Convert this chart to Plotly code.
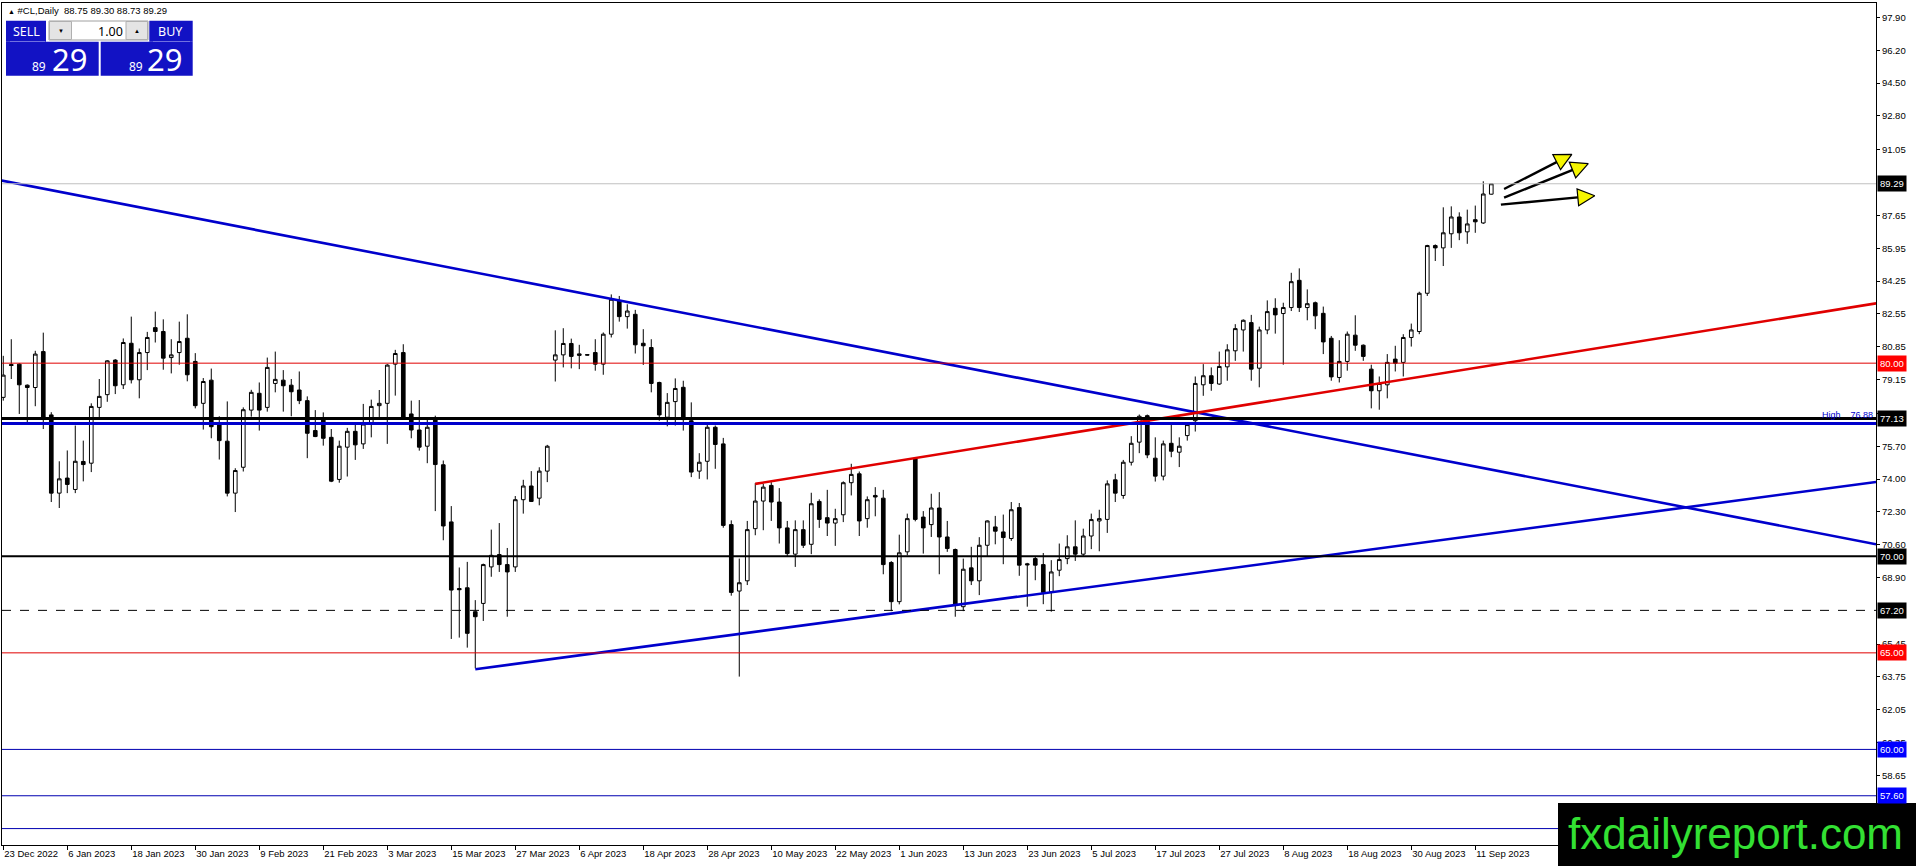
import math
import plotly.graph_objects as go

# ---------------- data ----------------
opens = [78.23, 79.93, 79.95, 78.86, 78.74, 80.60, 77.32, 73.27, 74.05, 73.46,
         74.91, 74.82, 77.71, 78.37, 80.16, 78.88, 81.03, 79.14, 80.55, 81.84,
         81.64, 80.29, 80.55, 81.29, 80.09, 77.92, 79.12, 76.85, 75.96, 73.27,
         74.61, 77.57, 78.44, 77.71, 78.95, 79.12, 78.86, 78.61, 78.06, 76.51,
         77.11, 76.16, 73.98, 75.65, 76.47, 75.82, 76.90, 77.80, 77.92, 79.95,
         80.55, 77.37, 76.54, 75.70, 77.14, 74.74, 71.78, 68.33, 68.37, 67.13,
         67.56, 69.45, 70.09, 69.57, 69.45, 72.93, 73.64, 73.01, 74.41, 80.16,
         80.43, 81.02, 80.40, 80.44, 80.55, 79.95, 81.50, 83.22, 82.41, 82.53,
         81.03, 80.81, 79.00, 77.20, 78.01, 78.75, 77.02, 74.41, 74.92, 76.68,
         75.82, 71.64, 68.20, 68.73, 71.43, 72.86, 73.67, 72.81, 71.47, 70.11,
         71.38, 70.62, 72.84, 72.00, 71.72, 72.15, 73.81, 74.27, 71.95, 73.15,
         73.01, 69.68, 67.65, 70.23, 75.05, 72.03, 71.64, 72.50, 71.00, 70.35,
         67.39, 69.40, 68.73, 70.57, 71.52, 71.26, 70.92, 72.52, 69.61, 69.88,
         69.57, 68.16, 69.28, 69.88, 70.49, 70.11, 71.05, 71.83, 71.91, 73.96,
         73.15, 74.87, 75.91, 77.28, 75.08, 74.15, 75.85, 75.39, 76.25, 77.02,
         78.88, 79.35, 78.92, 79.81, 80.64, 81.72, 82.10, 79.74, 81.72, 82.84,
         82.57, 82.88, 84.29, 82.88, 83.13, 82.58, 81.29, 79.26, 80.09, 81.45,
         80.93, 79.69, 78.57, 78.88, 80.21, 80.04, 81.33, 81.64, 83.62, 86.09,
         85.97, 86.70, 87.57, 86.80, 87.43, 87.26, 88.75]
highs = [80.38, 81.24, 80.00, 78.90, 80.64, 81.58, 77.46, 74.92, 75.48, 76.77,
         75.99, 77.92, 79.18, 80.16, 80.21, 81.28, 82.41, 80.76, 81.62, 82.67,
         82.27, 81.24, 82.15, 82.53, 80.52, 79.23, 79.72, 77.25, 78.02, 74.56,
         77.71, 78.62, 79.00, 80.29, 80.60, 79.64, 79.18, 79.57, 78.28, 77.57,
         77.45, 76.59, 75.99, 76.65, 76.82, 77.89, 78.11, 78.61, 79.95, 80.69,
         80.98, 78.06, 78.09, 77.11, 77.28, 74.96, 72.60, 69.42, 69.71, 67.73,
         69.62, 71.38, 71.72, 70.43, 73.12, 73.96, 74.41, 74.61, 75.77, 81.70,
         81.81, 81.27, 80.95, 80.46, 81.24, 81.59, 83.56, 83.48, 83.05, 82.76,
         81.76, 81.24, 79.04, 78.45, 79.21, 79.09, 77.97, 75.34, 76.90, 76.77,
         76.13, 71.86, 69.88, 71.83, 73.79, 73.76, 73.84, 73.53, 71.83, 71.86,
         71.86, 73.29, 72.95, 73.44, 72.46, 73.88, 74.79, 74.39, 73.10, 73.58,
         73.44, 69.75, 71.12, 72.21, 75.08, 72.34, 73.24, 73.32, 71.83, 70.40,
         69.88, 70.49, 70.99, 71.86, 72.09, 72.16, 72.81, 72.76, 69.66, 70.00,
         70.17, 69.80, 70.66, 71.09, 71.86, 71.43, 72.21, 72.41, 73.93, 74.27,
         74.99, 76.22, 77.34, 77.34, 76.16, 75.99, 76.94, 76.16, 76.94, 79.31,
         79.95, 79.78, 80.60, 80.98, 82.02, 82.27, 82.50, 81.89, 83.25, 83.36,
         83.13, 84.68, 84.91, 83.82, 83.19, 82.93, 81.41, 81.19, 81.64, 82.48,
         80.97, 79.92, 79.31, 80.47, 80.90, 81.50, 82.05, 83.70, 86.13, 86.15,
         88.07, 88.12, 87.81, 87.95, 88.16, 89.42, 89.30]
lows = [78.06, 79.18, 77.37, 76.85, 77.77, 76.59, 72.81, 72.50, 73.27, 73.27,
        73.88, 74.36, 77.20, 78.00, 78.40, 78.66, 78.95, 78.18, 79.64, 81.07,
        79.66, 79.47, 79.92, 79.06, 77.66, 76.56, 76.11, 75.01, 73.10, 72.29,
        74.39, 77.23, 76.51, 77.49, 78.49, 77.49, 77.25, 77.88, 75.08, 76.17,
        75.73, 73.84, 73.81, 74.13, 74.99, 75.56, 76.16, 77.20, 75.82, 78.32,
        77.08, 76.11, 75.47, 74.82, 72.34, 70.83, 65.72, 65.79, 65.27, 64.20,
        66.65, 68.94, 69.19, 66.87, 69.19, 72.21, 72.81, 72.64, 73.84, 79.05,
        79.78, 79.73, 79.69, 80.40, 79.61, 79.40, 81.33, 82.15, 81.79, 80.50,
        79.91, 78.49, 77.02, 76.73, 76.77, 76.51, 74.10, 74.01, 73.98, 74.53,
        71.48, 67.96, 63.77, 68.51, 71.09, 71.35, 71.83, 70.66, 69.97, 69.45,
        70.43, 70.11, 71.47, 71.05, 70.54, 71.77, 73.15, 71.05, 71.48, 72.07,
        69.07, 67.16, 67.51, 70.05, 71.81, 70.14, 71.00, 69.07, 70.23, 66.87,
        67.16, 68.51, 67.99, 70.02, 70.62, 69.59, 70.80, 68.99, 67.39, 68.76,
        67.52, 67.13, 68.97, 69.59, 69.76, 70.02, 70.37, 70.26, 71.21, 72.81,
        72.98, 74.70, 75.34, 75.08, 73.87, 73.93, 75.13, 74.62, 75.99, 76.46,
        78.31, 78.57, 78.88, 79.09, 80.12, 80.60, 79.09, 78.75, 81.50, 81.53,
        79.92, 82.70, 82.65, 82.22, 81.76, 80.47, 79.09, 79.00, 79.61, 80.64,
        80.12, 77.66, 77.59, 78.18, 79.57, 79.31, 80.86, 81.50, 83.48, 85.29,
        85.03, 85.97, 86.37, 86.18, 86.75, 87.21, 88.73]
closes = [79.38, 79.88, 78.88, 78.74, 80.47, 77.20, 73.27, 74.01, 73.72, 74.92,
          74.75, 77.76, 78.28, 80.12, 78.83, 81.07, 79.14, 80.55, 81.33, 81.64,
          80.26, 80.43, 81.12, 79.40, 77.80, 79.05, 76.71, 75.99, 73.27, 74.44,
          77.59, 78.49, 77.57, 79.78, 79.16, 78.83, 78.52, 78.06, 76.37, 76.20,
          76.11, 73.89, 75.70, 76.47, 75.77, 76.85, 77.76, 77.92, 79.90, 80.50,
          77.20, 76.54, 75.65, 76.68, 74.75, 71.57, 68.25, 68.27, 66.01, 66.87,
          69.57, 70.05, 69.57, 69.19, 72.93, 73.64, 72.84, 74.41, 75.70, 80.43,
          81.02, 80.35, 80.48, 80.42, 79.95, 81.50, 83.31, 82.41, 82.70, 80.95,
          80.90, 78.95, 77.32, 77.97, 78.69, 77.08, 74.36, 74.87, 76.68, 75.79,
          71.60, 68.13, 68.63, 71.38, 72.86, 73.58, 72.81, 71.47, 70.14, 71.38,
          70.57, 72.72, 71.91, 71.72, 71.95, 73.81, 74.24, 71.83, 72.93, 73.07,
          69.57, 67.65, 70.18, 71.95, 71.91, 71.47, 72.50, 71.00, 70.40, 67.51,
          69.33, 68.73, 70.57, 71.83, 71.30, 70.97, 72.41, 69.54, 69.56, 69.54,
          68.13, 69.19, 69.83, 70.49, 70.11, 71.05, 71.90, 71.95, 73.75, 73.27,
          74.87, 75.85, 77.25, 75.25, 74.15, 75.82, 75.44, 75.70, 76.82, 78.95,
          79.35, 78.95, 79.83, 80.69, 81.79, 82.22, 79.69, 81.72, 82.67, 82.50,
          82.88, 84.22, 82.88, 83.08, 82.45, 81.10, 79.29, 80.09, 81.50, 80.93,
          80.35, 78.57, 78.95, 80.04, 80.00, 81.33, 81.72, 83.62, 86.09, 85.97,
          86.75, 87.57, 86.75, 87.21, 87.32, 88.76, 89.29]

date_labels = ["23 Dec 2022", "6 Jan 2023", "18 Jan 2023", "30 Jan 2023", "9 Feb 2023",
               "21 Feb 2023", "3 Mar 2023", "15 Mar 2023", "27 Mar 2023", "6 Apr 2023",
               "18 Apr 2023", "28 Apr 2023", "10 May 2023", "22 May 2023", "1 Jun 2023",
               "13 Jun 2023", "23 Jun 2023", "5 Jul 2023", "17 Jul 2023", "27 Jul 2023",
               "8 Aug 2023", "18 Aug 2023", "30 Aug 2023", "11 Sep 2023"]
bars_per_label = 8

# visible price-axis tick labels (those hidden under level boxes are left out)
price_ticks = [97.90, 96.20, 94.50, 92.80, 91.05, 87.65, 85.95, 84.25, 82.55,
               80.85, 79.15, 77.40, 75.70, 74.00, 72.30, 70.60, 68.90, 65.45,
               63.75, 62.05, 60.35, 58.65, 56.95]

# horizontal levels
level_prices = [89.29, 80.00, 77.13, 76.88, 70.00, 67.20, 65.00, 60.00, 57.60, 55.90]
level_labels = ["89.29", "80.00", "77.13", None, "70.00", "67.20", "65.00", "60.00", "57.60", None]

# trend lines: (bar index, price) end points
trend_blue_down_x = [-0.4, 234.1]
trend_blue_down_y = [89.47, 70.62]
trend_blue_up_x = [59, 234.1]
trend_blue_up_y = [64.15, 73.85]
trend_red_up_x = [94, 234.1]
trend_red_up_y = [73.75, 83.10]

# arrows: tail and tip (bar index, price)
arrow_tail_x = [187.6, 187.6, 187.2]
arrow_tail_y = [89.02, 88.57, 88.21]
arrow_tip_x = [196.96, 199.05, 199.93]
arrow_tip_y = [91.00, 90.49, 88.71]

header_text = "#CL,Daily  88.75 89.30 88.73 89.29"
bid_big, bid_small = "29", "89"

# ---------------- styles / layout constants ----------------
W, H = 1916, 866
ML, MR, MT, MB = 2, 40, 3, 21
PW, PH = W - ML - MR, H - MT - MB
X_RANGE = [-0.16, 234.09]
Y_RANGE = [55.05, 98.65]
PX_PER_BAR = PW / (X_RANGE[1] - X_RANGE[0])
PX_PER_PRICE = PH / (Y_RANGE[1] - Y_RANGE[0])
AX_FONT = dict(family="Liberation Sans, Arial, sans-serif", size=9.5, color="black")


def pxx(x):
    return (x - ML) / PW


def pxy(y):
    return (MT + PH - y) / PH


level_styles = [
    dict(color="#c0c0c0", width=1, dash="solid", box="black"),
    dict(color="#e00000", width=1, dash="solid", box="#ff0000"),
    dict(color="black", width=3, dash="solid", box="black"),
    dict(color="#0000cc", width=3, dash="solid", box=None),
    dict(color="black", width=2, dash="solid", box="black"),
    dict(color="black", width=1, dash="dash", box="black"),
    dict(color="#e00000", width=1, dash="solid", box="#ff0000"),
    dict(color="#0000b0", width=1, dash="solid", box="#0000ff"),
    dict(color="#0000b0", width=1, dash="solid", box="#0000ff"),
    dict(color="#0000b0", width=1, dash="solid", box=None),
]

fig = go.Figure()

fig.add_trace(go.Candlestick(
    x=list(range(len(opens))), open=opens, high=highs, low=lows, close=closes,
    increasing=dict(fillcolor="white", line=dict(color="black", width=1)),
    decreasing=dict(fillcolor="black", line=dict(color="black", width=1)),
    whiskerwidth=0, showlegend=False, hoverinfo="skip",
))

for tx, ty, col in [(trend_blue_down_x, trend_blue_down_y, "#0000cc"),
                    (trend_blue_up_x, trend_blue_up_y, "#0000cc"),
                    (trend_red_up_x, trend_red_up_y, "#e00000")]:
    fig.add_trace(go.Scatter(x=tx, y=ty, mode="lines", line=dict(color=col, width=2.6),
                             showlegend=False, hoverinfo="skip"))

shapes = []
annotations = []

for p, lab, st in zip(level_prices, level_labels, level_styles):
    shapes.append(dict(type="line", xref="paper", x0=0, x1=1, yref="y", y0=p, y1=p,
                       line=dict(color=st["color"], width=st["width"], dash=st["dash"]),
                       layer="above"))
    if lab and st["box"]:
        annotations.append(dict(x=1, xref="paper", xanchor="left", xshift=1, y=p, yref="y",
                                yanchor="middle", text=lab, showarrow=False,
                                bgcolor=st["box"], borderpad=2,
                                font=dict(family=AX_FONT["family"], size=9.5, color="white")))

annotations.append(dict(x=1, xref="paper", xanchor="right", xshift=-1, y=level_prices[3], yref="y",
                        yanchor="bottom", yshift=1, text="High    76.88", showarrow=False,
                        font=dict(family=AX_FONT["family"], size=9, color="#0000cc")))

# arrows: shaft + yellow head
for tx0, ty0, tx1, ty1 in zip(arrow_tail_x, arrow_tail_y, arrow_tip_x, arrow_tip_y):
    dxp = (tx1 - tx0) * PX_PER_BAR
    dyp = (ty1 - ty0) * PX_PER_PRICE
    length = math.hypot(dxp, dyp)
    ang = -math.degrees(math.atan2(dyp, dxp))
    t_shaft = 1 - 12 / length
    t_head = 1 - 8 / length
    fig.add_trace(go.Scatter(x=[tx0, tx0 + (tx1 - tx0) * t_shaft], y=[ty0, ty0 + (ty1 - ty0) * t_shaft],
                             mode="lines", line=dict(color="black", width=2.4),
                             showlegend=False, hoverinfo="skip", cliponaxis=False))
    fig.add_trace(go.Scatter(x=[tx0 + (tx1 - tx0) * t_head], y=[ty0 + (ty1 - ty0) * t_head],
                             mode="markers",
                             marker=dict(symbol="arrow-right", size=17, angle=ang,
                                         color="#f5f500", line=dict(color="black", width=1.2)),
                             showlegend=False, hoverinfo="skip", cliponaxis=False))

# header
annotations.append(dict(x=pxx(6), y=pxy(10.5), xref="paper", yref="paper", xanchor="left",
                        yanchor="middle", showarrow=False,
                        text="<span style='font-size:7px'>▲</span> " + header_text,
                        font=dict(family="Liberation Sans, Arial", size=9.5, color="black")))

# one-click trading panel
PANEL_BLUE = "#1212c4"


def rect(x0, y0, x1, y1, fill, line_color=None, lw=0):
    shapes.append(dict(type="rect", xref="paper", yref="paper",
                       x0=pxx(x0), x1=pxx(x1), y0=pxy(y1), y1=pxy(y0),
                       fillcolor=fill, line=dict(color=line_color or fill, width=lw),
                       layer="above"))


rect(6, 20.7, 46, 41.7, PANEL_BLUE)
rect(6, 41.7, 98.7, 75.7, PANEL_BLUE)
rect(149.3, 20.7, 192.7, 41.7, PANEL_BLUE)
rect(100.7, 41.7, 192.7, 75.7, PANEL_BLUE)
rect(49, 21, 148, 40, "white", "#a0a0a0", 1)
rect(49.5, 21.5, 71.5, 39.5, "#e4e4e4", "#b0b0b0", 1)
rect(126, 21.5, 147.5, 39.5, "#e4e4e4", "#b0b0b0", 1)
for x0, x1 in [(10, 45), (153, 190)]:
    shapes.append(dict(type="line", xref="paper", yref="paper", x0=pxx(x0), x1=pxx(x1),
                       y0=pxy(41.5), y1=pxy(41.5), line=dict(color="#7070e0", width=1), layer="above"))

PF = "Noto Sans, Open Sans, sans-serif"


def ptext(x, y, s, size, color="white", anchor="center"):
    annotations.append(dict(x=pxx(x), y=pxy(y), xref="paper", yref="paper", xanchor=anchor,
                            yanchor="middle", text=s, showarrow=False,
                            font=dict(family=PF, size=size, color=color)))


ptext(26, 31.5, "SELL", 12.5)
ptext(170, 31.5, "BUY", 12.5)
ptext(124.5, 31, "1.00", 12.5, "black", "right")
ptext(60.5, 31, "▼", 6, "black")
ptext(136.7, 31, "▲", 6, "black")
ptext(39, 66, bid_small, 12)
ptext(69.5, 58.5, bid_big, 31)
ptext(136, 66, bid_small, 12)
ptext(164.5, 58.5, bid_big, 31)

# watermark
shapes.append(dict(type="rect", xref="paper", yref="paper", x0=pxx(1558), x1=pxx(1916),
                   y0=pxy(866), y1=pxy(803), fillcolor="black", line=dict(width=0), layer="above"))
annotations.append(dict(x=pxx(1735), y=pxy(833), xref="paper", yref="paper", xanchor="center",
                        yanchor="middle", text="fxdailyreport.com", showarrow=False,
                        font=dict(family="Liberation Sans, Arial", size=44, color="#33e033")))

tick_positions = [i * bars_per_label for i in range(len(date_labels))]

fig.update_layout(
    width=W, height=H,
    margin=dict(l=ML, r=MR, t=MT, b=MB, pad=0),
    paper_bgcolor="white", plot_bgcolor="white",
    showlegend=False,
    shapes=shapes, annotations=annotations,
    xaxis=dict(range=X_RANGE, rangeslider=dict(visible=False), showgrid=False, zeroline=False,
               tickmode="array", tickvals=tick_positions, ticktext=date_labels,
               ticks="outside", ticklen=4, tickcolor="black", ticklabelposition="outside right",
               tickfont=AX_FONT, showline=True, linecolor="black", linewidth=1, mirror=True,
               fixedrange=True),
    yaxis=dict(range=Y_RANGE, side="right", showgrid=False, zeroline=False,
               tickmode="array", tickvals=price_ticks, ticktext=[f"{v:.2f}" for v in price_ticks],
               ticks="outside", ticklen=3, tickcolor="black", tickfont=AX_FONT,
               showline=True, linecolor="black", linewidth=1, mirror=True, fixedrange=True),
    boxgap=0.35,
)

fig.write_html("out.html",
               config={"displayModeBar": False},
               post_script="document.body.style.margin='0px';document.body.style.overflow='hidden';")
